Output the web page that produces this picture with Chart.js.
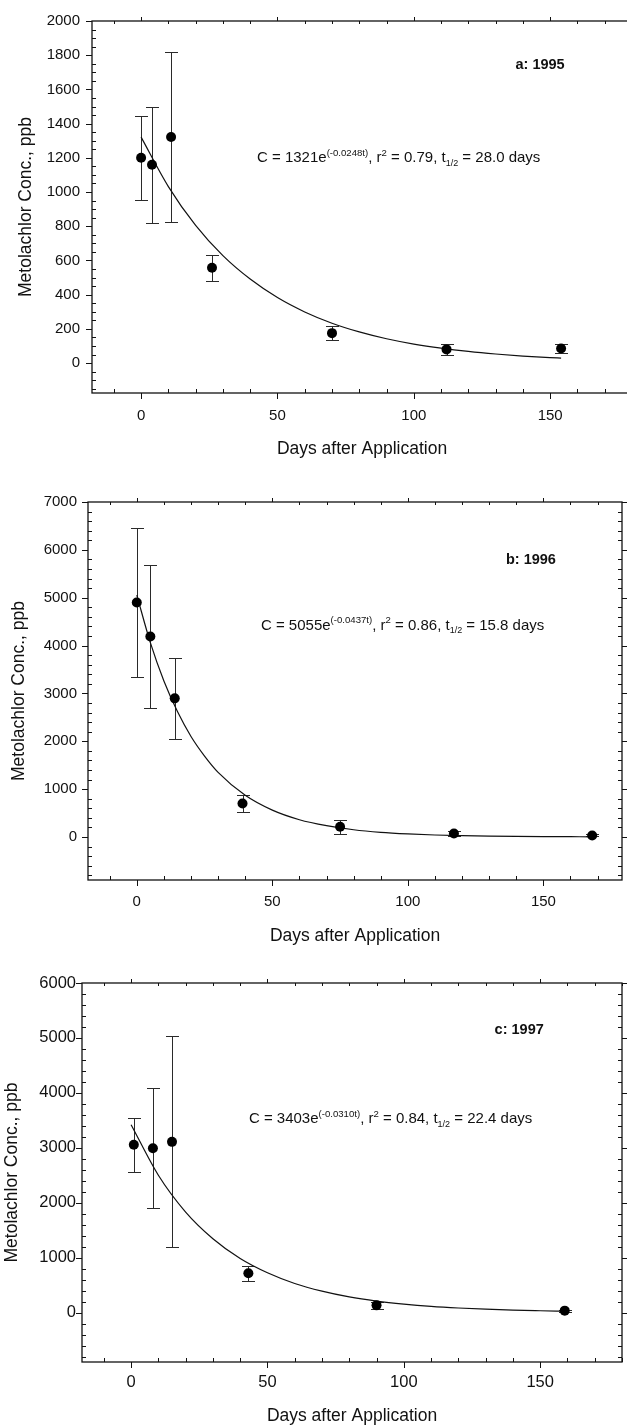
<!DOCTYPE html>
<html>
<head>
<meta charset="utf-8">
<script src="https://cdn.jsdelivr.net/npm/chart.js@4.4.1/dist/chart.umd.min.js"></script>
<style>
  html, body { margin: 0; padding: 0; background: #fff; overflow: hidden; }
  body { width: 627px; height: 1425px; position: relative; }
  canvas { position: absolute; left: 0; }
</style>
</head>
<body>
<canvas id="c1995" width="680" height="470" style="top:0px"></canvas>
<canvas id="c1996" width="627" height="480" style="top:470px"></canvas>
<canvas id="c1997" width="627" height="475" style="top:950px"></canvas>
<script>
// ---- data ----
const xTicks = [0, 50, 100, 150];

// a: 1995
const days95 = [0, 4, 11, 26, 70, 112, 154];
const conc95 = [1200, 1160, 1322, 557, 175, 80, 85];
const err95 = [245, 340, 495, 75, 43, 31, 27];
const fitDays95 = [0, 10, 20, 30, 40, 50, 60, 70, 80, 90, 100, 110, 120, 130, 140, 150, 154];
const fit95 = [1321, 1032, 805, 628, 491, 383, 299, 233, 182, 142, 111, 87, 68, 53, 41, 32, 29];
const yTicks95 = [0, 200, 400, 600, 800, 1000, 1200, 1400, 1600, 1800, 2000];

// b: 1996
const days96 = [0, 5, 14, 39, 75, 117, 168];
const conc96 = [4900, 4190, 2896, 699, 213, 73, 31];
const err96 = [1547, 1490, 840, 170, 145, 45, 20];
const fitDays96 = [0, 5, 10, 15, 20, 25, 30, 40, 50, 60, 70, 80, 90, 100, 110, 120, 130, 140, 150, 160, 168];
const fit96 = [5055, 4060, 3260, 2620, 2100, 1690, 1350, 870, 560, 360, 235, 150, 97, 64, 41, 27, 17, 11, 7, 5, 3];
const yTicks96 = [0, 1000, 2000, 3000, 4000, 5000, 6000, 7000];

// c: 1997
const days97 = [1, 8, 15, 43, 90, 159];
const conc97 = [3054, 2992, 3108, 716, 131, 35];
const err97 = [490, 1095, 1918, 140, 70, 20];
const fitDays97 = [0, 10, 20, 30, 40, 50, 60, 70, 80, 90, 100, 110, 120, 130, 140, 150, 159];
const fit97 = [3420, 2500, 1830, 1345, 985, 725, 530, 390, 285, 210, 155, 113, 83, 61, 44, 33, 25];
const yTicks97 = [0, 1000, 2000, 3000, 4000, 5000, 6000];

const FONT = "'Liberation Sans', Arial, Helvetica, sans-serif";
const INK = '#111';

// draws text runs with super/subscripts, left aligned from x, baseline y
function drawRich(ctx, x, y, parts, size) {
    ctx.textAlign = 'left';
    ctx.textBaseline = 'alphabetic';
    parts.forEach(part => {
        let s = size, dy = 0;
        if (part.sup) { s = size * 0.64; dy = -size * 0.45; }
        if (part.sub) { s = size * 0.6; dy = size * 0.22; }
        ctx.font = s + 'px ' + FONT;
        ctx.fillText(part.t, x, y + dy);
        x += ctx.measureText(part.t).width;
    });
}

function makePanel(p) {
    const decor = {
        id: 'decor',
        beforeDatasetsDraw(chart) {
            const { ctx, scales: { x, y } } = chart;
            ctx.save();
            ctx.strokeStyle = '#2a2a2a';
            ctx.lineWidth = 1;
            ctx.beginPath();
            p.days.forEach((d, i) => {
                const px = Math.round(x.getPixelForValue(d)) + 0.5;
                const y1 = Math.round(y.getPixelForValue(p.conc[i] + p.err[i])) + 0.5;
                const y2 = Math.round(y.getPixelForValue(p.conc[i] - p.err[i])) + 0.5;
                ctx.moveTo(px, y1); ctx.lineTo(px, y2);
                ctx.moveTo(px - 6.5, y1); ctx.lineTo(px + 6.5, y1);
                ctx.moveTo(px - 6.5, y2); ctx.lineTo(px + 6.5, y2);
            });
            ctx.stroke();
            ctx.restore();
        },
        afterDraw(chart) {
            const { ctx, chartArea: a, scales: { x, y } } = chart;
            ctx.save();
            ctx.strokeStyle = INK;
            ctx.lineWidth = 1.3;
            ctx.strokeRect(a.left, a.top, a.right - a.left, a.bottom - a.top);
            ctx.lineWidth = 1;
            ctx.beginPath();
            for (let v = Math.ceil(x.min / p.xMinor) * p.xMinor; v <= x.max; v += p.xMinor) {
                const px = Math.round(x.getPixelForValue(v)) + 0.5;
                if (xTicks.includes(v)) {
                    ctx.moveTo(px, a.bottom); ctx.lineTo(px, a.bottom + 6);
                    ctx.moveTo(px, a.top); ctx.lineTo(px, a.top - 4);
                } else {
                    ctx.moveTo(px, a.bottom); ctx.lineTo(px, a.bottom - 4);
                    ctx.moveTo(px, a.top); ctx.lineTo(px, a.top + 3);
                }
            }
            for (let v = Math.ceil(y.min / p.yMinor) * p.yMinor; v <= y.max; v += p.yMinor) {
                const py = Math.round(y.getPixelForValue(v)) + 0.5;
                if (p.yTicks.includes(v)) {
                    ctx.moveTo(a.left, py); ctx.lineTo(a.left - 6, py);
                    ctx.moveTo(a.right, py); ctx.lineTo(a.right + 5, py);
                } else {
                    ctx.moveTo(a.left, py); ctx.lineTo(a.left + 4, py);
                    ctx.moveTo(a.right, py); ctx.lineTo(a.right - 4, py);
                }
            }
            ctx.stroke();

            ctx.fillStyle = INK;
            ctx.font = 'bold 14.5px ' + FONT;
            ctx.textAlign = 'center';
            ctx.textBaseline = 'middle';
            ctx.fillText(p.tag, x.getPixelForValue(p.tagAt[0]), y.getPixelForValue(p.tagAt[1]));
            drawRich(ctx, x.getPixelForValue(p.eqAt[0]), y.getPixelForValue(p.eqAt[1]) + 5, p.eq, 15);
            ctx.restore();
        }
    };

    return new Chart(document.getElementById(p.id), {
        type: 'scatter',
        data: {
            datasets: [
                {
                    data: p.days.map((d, i) => ({ x: d, y: p.conc[i] })),
                    pointRadius: 5,
                    pointHoverRadius: 5,
                    pointBackgroundColor: '#000',
                    pointBorderWidth: 0
                },
                {
                    type: 'line',
                    data: p.fitDays.map((d, i) => ({ x: d, y: p.fit[i] })),
                    borderColor: INK,
                    borderWidth: 1.2,
                    pointRadius: 0,
                    fill: false,
                    cubicInterpolationMode: 'monotone'
                }
            ]
        },
        options: {
            responsive: false,
            animation: false,
            events: [],
            layout: { padding: { top: p.padTop, right: p.padRight, left: 0, bottom: 0 } },
            plugins: { legend: { display: false }, tooltip: { enabled: false } },
            scales: {
                x: {
                    type: 'linear',
                    min: p.xMin,
                    max: p.xMax,
                    grid: { display: false, drawTicks: false },
                    border: { display: false },
                    afterBuildTicks: s => { s.ticks = xTicks.map(v => ({ value: v })); },
                    afterFit: s => { s.height = p.xAxisH; },
                    ticks: {
                        color: INK, font: { family: FONT, size: p.tickSize },
                        padding: p.xTickPad, maxRotation: 0, autoSkip: false,
                        callback: v => String(v)
                    },
                    title: {
                        display: true, text: 'Days after Application', color: INK,
                        font: { family: FONT, size: 17.5, lineHeight: 1 },
                        padding: { top: 0, bottom: p.xTitlePad }
                    }
                },
                y: {
                    type: 'linear',
                    min: p.yMin,
                    max: p.yMax,
                    grid: { display: false, drawTicks: false },
                    border: { display: false },
                    afterBuildTicks: s => { s.ticks = p.yTicks.map(v => ({ value: v })); },
                    afterFit: s => { s.width = p.yAxisW; },
                    ticks: {
                        color: INK, font: { family: FONT, size: p.tickSize },
                        padding: p.yTickPad, autoSkip: false,
                        callback: v => String(v)
                    },
                    title: {
                        display: true, text: 'Metolachlor Conc., ppb', color: INK,
                        font: { family: FONT, size: 17.5, lineHeight: 1 },
                        padding: { top: p.yTitlePad, bottom: 0 }
                    }
                }
            }
        },
        plugins: [decor]
    });
}

makePanel({
    id: 'c1995', days: days95, conc: conc95, err: err95, fitDays: fitDays95, fit: fit95,
    yTicks: yTicks95, xMin: -18, xMax: 180, yMin: -175, yMax: 2000, xMinor: 10, yMinor: 50,
    padTop: 17, padRight: 48, xAxisH: 77, yAxisW: 92, tickSize: 15,
    xTickPad: 14, yTickPad: 12, xTitlePad: 12.5, yTitlePad: 17.25,
    tag: 'a: 1995', tagAt: [146.3, 1740], eqAt: [42.5, 1202],
    eq: [{ t: 'C = 1321e' }, { t: '(-0.0248t)', sup: true }, { t: ', r' }, { t: '2', sup: true },
         { t: ' = 0.79, t' }, { t: '1/2', sub: true }, { t: ' = 28.0 days' }]
});

makePanel({
    id: 'c1996', days: days96, conc: conc96, err: err96, fitDays: fitDays96, fit: fit96,
    yTicks: yTicks96, xMin: -18, xMax: 179, yMin: -900, yMax: 7000, xMinor: 10, yMinor: 200,
    padTop: 32, padRight: 2, xAxisH: 70, yAxisW: 88, tickSize: 15,
    xTickPad: 13, yTickPad: 11, xTitlePad: 5.5, yTitlePad: 10.25,
    tag: 'b: 1996', tagAt: [145.4, 5790], eqAt: [45.8, 4434],
    eq: [{ t: 'C = 5055e' }, { t: '(-0.0437t)', sup: true }, { t: ', r' }, { t: '2', sup: true },
         { t: ' = 0.86, t' }, { t: '1/2', sub: true }, { t: ' = 15.8 days' }]
});

makePanel({
    id: 'c1997', days: days97, conc: conc97, err: err97, fitDays: fitDays97, fit: fit97,
    yTicks: yTicks97, xMin: -18, xMax: 180, yMin: -900, yMax: 6000, xMinor: 10, yMinor: 200,
    padTop: 33, padRight: 2, xAxisH: 63, yAxisW: 82, tickSize: 16.5,
    xTickPad: 11, yTickPad: 6, xTitlePad: 0, yTitlePad: 3.75,
    tag: 'c: 1997', tagAt: [142.3, 5142], eqAt: [43.2, 3534],
    eq: [{ t: 'C = 3403e' }, { t: '(-0.0310t)', sup: true }, { t: ', r' }, { t: '2', sup: true },
         { t: ' = 0.84, t' }, { t: '1/2', sub: true }, { t: ' = 22.4 days' }]
});
</script>
</body>
</html>
